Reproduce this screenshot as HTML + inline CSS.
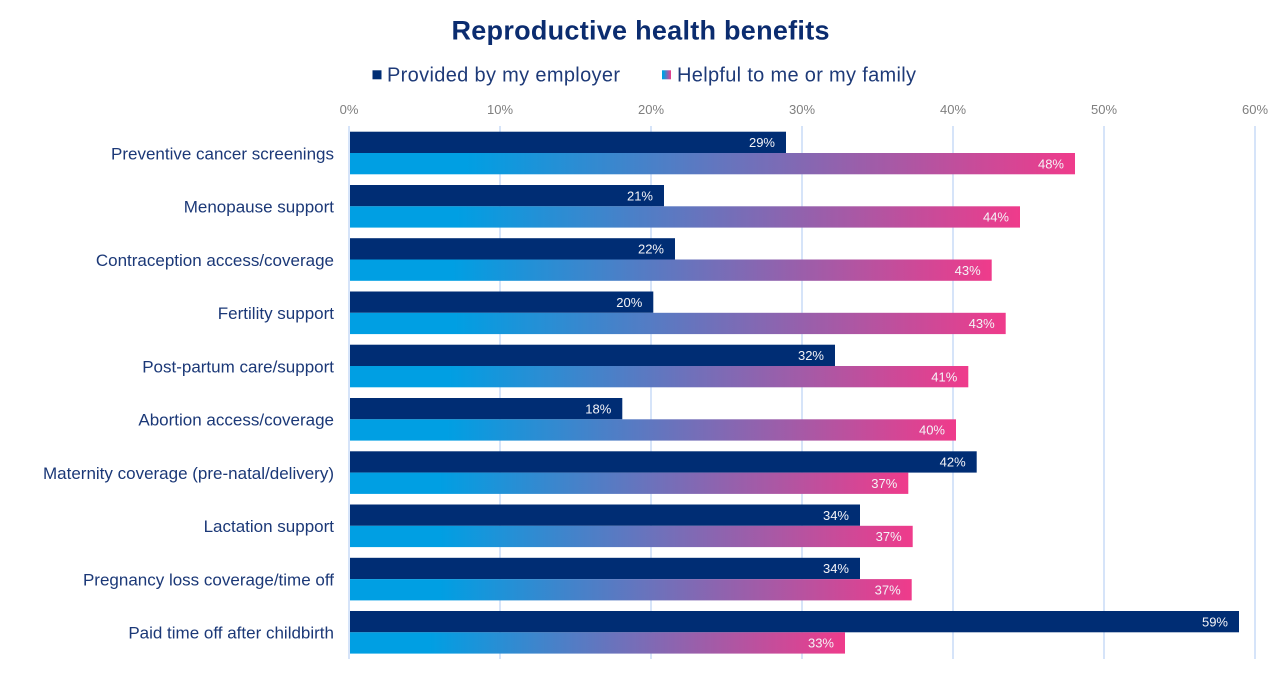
<!DOCTYPE html>
<html>
<head>
<meta charset="utf-8">
<style>
  html, body { margin: 0; padding: 0; background: #ffffff; }
  body { width: 1280px; height: 678px; overflow: hidden; }
  svg { display: block; font-family: "Liberation Sans", Arial, sans-serif; }
</style>
</head>
<body>
<svg width="1280" height="678" viewBox="0 0 1280 678" xmlns="http://www.w3.org/2000/svg">
  <defs>
    <linearGradient id="g" x1="0" y1="0" x2="1" y2="0">
      <stop offset="0" stop-color="#009FE3"/>
      <stop offset="0.16" stop-color="#009FE3"/>
      <stop offset="1" stop-color="#EF3B8B"/>
    </linearGradient>
  </defs>

  <!-- Title -->
  <text x="640.5" y="39.5" text-anchor="middle" font-size="27" font-weight="bold" fill="#0B2C6F" textLength="378" lengthAdjust="spacing">Reproductive health benefits</text>

  <!-- Legend -->
  <rect x="372.5" y="70.3" width="9" height="9" fill="#002D74"/>
  <text x="387" y="81.3" font-size="20" fill="#1E3A78" textLength="233" lengthAdjust="spacing">Provided by my employer</text>
  <rect x="662" y="70.3" width="9" height="9" fill="url(#g)"/>
  <text x="677" y="81.3" font-size="20" fill="#1E3A78" textLength="239" lengthAdjust="spacing">Helpful to me or my family</text>

  <!-- Tick labels -->
  <g font-size="13" fill="#7F7F7F" text-anchor="middle">
    <text x="349" y="114">0%</text>
    <text x="500" y="114">10%</text>
    <text x="651" y="114">20%</text>
    <text x="802" y="114">30%</text>
    <text x="953" y="114">40%</text>
    <text x="1104" y="114">50%</text>
    <text x="1255" y="114">60%</text>
  </g>

  <!-- Gridlines -->
  <g stroke="#C9DCF7" stroke-width="1.5">
    <line x1="349" y1="126" x2="349" y2="659"/>
    <line x1="500" y1="126" x2="500" y2="659"/>
    <line x1="651" y1="126" x2="651" y2="659"/>
    <line x1="802" y1="126" x2="802" y2="659"/>
    <line x1="953" y1="126" x2="953" y2="659"/>
    <line x1="1104" y1="126" x2="1104" y2="659"/>
    <line x1="1255" y1="126" x2="1255" y2="659"/>
  </g>

  <!-- Category labels -->
  <g font-size="17" fill="#1B3877" text-anchor="end">
    <text x="334" y="159.4">Preventive cancer screenings</text>
    <text x="334" y="212.7">Menopause support</text>
    <text x="334" y="265.9">Contraception access/coverage</text>
    <text x="334" y="319.2">Fertility support</text>
    <text x="334" y="372.4">Post-partum care/support</text>
    <text x="334" y="425.7">Abortion access/coverage</text>
    <text x="334" y="479.0">Maternity coverage (pre-natal/delivery)</text>
    <text x="334" y="532.2">Lactation support</text>
    <text x="334" y="585.5">Pregnancy loss coverage/time off</text>
    <text x="334" y="638.7">Paid time off after childbirth</text>
  </g>

  <!-- Bars -->
  <g>
    <!-- row 1 -->
    <rect x="350" y="131.7" width="436" height="21.3" fill="#002D74"/>
    <rect x="350" y="153.0" width="725" height="21.3" fill="url(#g)"/>
    <!-- row 2 -->
    <rect x="350" y="185.0" width="314" height="21.3" fill="#002D74"/>
    <rect x="350" y="206.3" width="670" height="21.3" fill="url(#g)"/>
    <!-- row 3 -->
    <rect x="350" y="238.2" width="325" height="21.3" fill="#002D74"/>
    <rect x="350" y="259.5" width="641.7" height="21.3" fill="url(#g)"/>
    <!-- row 4 -->
    <rect x="350" y="291.5" width="303.3" height="21.3" fill="#002D74"/>
    <rect x="350" y="312.8" width="655.7" height="21.3" fill="url(#g)"/>
    <!-- row 5 -->
    <rect x="350" y="344.7" width="485" height="21.3" fill="#002D74"/>
    <rect x="350" y="366.0" width="618.3" height="21.3" fill="url(#g)"/>
    <!-- row 6 -->
    <rect x="350" y="398.0" width="272.3" height="21.3" fill="#002D74"/>
    <rect x="350" y="419.3" width="606" height="21.3" fill="url(#g)"/>
    <!-- row 7 -->
    <rect x="350" y="451.3" width="626.7" height="21.3" fill="#002D74"/>
    <rect x="350" y="472.6" width="558.3" height="21.3" fill="url(#g)"/>
    <!-- row 8 -->
    <rect x="350" y="504.5" width="510" height="21.3" fill="#002D74"/>
    <rect x="350" y="525.8" width="562.7" height="21.3" fill="url(#g)"/>
    <!-- row 9 -->
    <rect x="350" y="557.8" width="510" height="21.3" fill="#002D74"/>
    <rect x="350" y="579.1" width="561.7" height="21.3" fill="url(#g)"/>
    <!-- row 10 -->
    <rect x="350" y="611.0" width="889" height="21.3" fill="#002D74"/>
    <rect x="350" y="632.3" width="495" height="21.3" fill="url(#g)"/>
  </g>

  <!-- Data labels -->
  <g font-size="13" fill="#F4F4F8" text-anchor="end">
    <text x="775" y="147.0">29%</text>
    <text x="1064" y="168.3">48%</text>
    <text x="653" y="200.3">21%</text>
    <text x="1009" y="221.6">44%</text>
    <text x="664" y="253.5">22%</text>
    <text x="980.7" y="274.8">43%</text>
    <text x="642.3" y="306.8">20%</text>
    <text x="994.7" y="328.1">43%</text>
    <text x="824" y="360.0">32%</text>
    <text x="957.3" y="381.3">41%</text>
    <text x="611.3" y="413.3">18%</text>
    <text x="945" y="434.6">40%</text>
    <text x="965.7" y="466.6">42%</text>
    <text x="897.3" y="487.9">37%</text>
    <text x="849" y="519.8">34%</text>
    <text x="901.7" y="541.1">37%</text>
    <text x="849" y="573.1">34%</text>
    <text x="900.7" y="594.4">37%</text>
    <text x="1228" y="626.3">59%</text>
    <text x="834" y="647.6">33%</text>
  </g>
</svg>
</body>
</html>
